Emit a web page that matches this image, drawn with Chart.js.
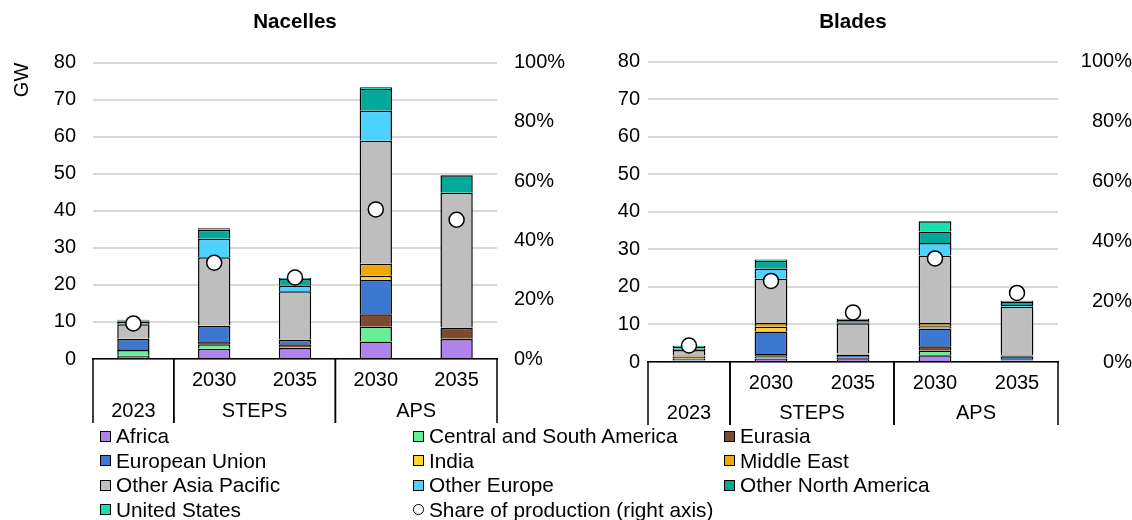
<!DOCTYPE html>
<html>
<head>
<meta charset="utf-8">
<script src="https://cdn.jsdelivr.net/npm/chart.js@4/dist/chart.umd.min.js"></script>
<style>
  body { margin: 0; background: #fff; font-family: Arial, "Liberation Sans", sans-serif; }
  #wrap { position: relative; width: 1132px; height: 520px; }
  canvas { position: absolute; top: 0; }
  #legend { position: absolute; left: 100px; top: 424px; display: grid;
    grid-template-columns: 313px 311px 300px; grid-auto-rows: 24.5px; font-size: 20.8px; color: #000; }
  #legend span { display: flex; align-items: center; white-space: nowrap; }
  #legend i { display: inline-block; width: 9px; height: 9px; border: 1px solid #000; margin-right: 5px; }
  #legend i.dot { border-radius: 50%; background: #fff; }
</style>
</head>
<body>
<div id="wrap">
  <canvas id="nacelles" width="566" height="430" style="left:0"></canvas>
  <canvas id="blades" width="566" height="430" style="left:566px"></canvas>
  <div id="legend"></div>
</div>
<script>
// categories
const yearLabels = ['', '2030', '2035', '2030', '2035'];
const groups = [
  { label: '2023', from: 0, to: 0 },
  { label: 'STEPS', from: 1, to: 2 },
  { label: 'APS', from: 3, to: 4 }
];
const regions = ['Africa', 'Central and South America', 'Eurasia', 'European Union', 'India',
  'Middle East', 'Other Asia Pacific', 'Other Europe', 'Other North America', 'United States'];
const regionColors = ['#b084ec', '#66f095', '#7d4a30', '#3c78d2', '#ffd22e',
  '#f0a800', '#bebebe', '#4dd2ff', '#00aa9b', '#14e0b4'];

// Nacelles, GW (2023, STEPS 2030, STEPS 2035, APS 2030, APS 2035)
const nacAfrica  = [0.9, 2.8, 3.0, 4.7, 5.4];
const nacCSA     = [1.5, 1.2, 0.2, 4.0, 0.1];
const nacEurasia = [0.3, 0.8, 0.8, 3.4, 2.9];
const nacEU      = [2.7, 4.1, 1.2, 9.2, 0.1];
const nacIndia   = [0.1, 0.1, 0.1, 1.2, 0];
const nacME      = [0, 0.1, 0, 3.2, 0];
const nacOAP     = [3.9, 18.4, 13.0, 33.2, 36.4];
const nacOE      = [0.7, 5.0, 1.5, 8.1, 0];
const nacONA     = [0.3, 2.4, 1.8, 5.9, 4.7];
const nacUS      = [0.2, 0.4, 0.3, 0.5, 0];
const nacShare   = [12, 32.5, 27.5, 50.5, 47];

// Blades, GW
const bladeAfrica  = [0.2, 0.9, 0.7, 1.8, 0.3];
const bladeCSA     = [0.1, 0.6, 0.1, 1.2, 0.1];
const bladeEurasia = [0.1, 0.6, 0.3, 1.2, 0.3];
const bladeEU      = [0.5, 6.0, 0.9, 4.7, 0.8];
const bladeIndia   = [0.5, 1.3, 0.2, 0.6, 0.2];
const bladeME      = [0.3, 1.0, 0.1, 0.9, 0.1];
const bladeOAP     = [1.5, 11.8, 8.0, 18.0, 12.9];
const bladeOE      = [0.3, 2.7, 0.3, 3.3, 0.5];
const bladeONA     = [0.5, 2.0, 0.6, 3.1, 0.8];
const bladeUS      = [0.3, 0.4, 0.3, 2.7, 0.3];
const bladeShare   = [5.5, 27, 16.5, 34.5, 23];

const shareLabel = 'Share of production (right axis)';
const FONT = 'Arial, "Liberation Sans", sans-serif';
Chart.defaults.font.family = FONT;
Chart.defaults.font.size = 20;
Chart.defaults.color = '#000';

// draws the group separators and group names under the year ticks
const categoryBox = {
  id: 'categoryBox',
  afterDraw(chart) {
    const x = chart.scales.x, ctx = chart.ctx;
    const n = chart.data.labels.length;
    const edge = i => i <= 0 ? x.left : i >= n ? x.right
      : (x.getPixelForValue(i - 1) + x.getPixelForValue(i)) / 2;
    ctx.save();
    ctx.strokeStyle = '#000';
    ctx.lineWidth = 1.5;
    ctx.fillStyle = '#000';
    ctx.font = '20px ' + FONT;
    ctx.textAlign = 'center';
    ctx.textBaseline = 'middle';
    groups.forEach(g => {
      const a = edge(g.from), b = edge(g.to + 1);
      [a, b].forEach(px => {
        ctx.beginPath();
        ctx.moveTo(px, x.top);
        ctx.lineTo(px, x.bottom);
        ctx.stroke();
      });
      ctx.fillText(g.label, (a + b) / 2, x.bottom - 12);
    });
    ctx.restore();
  }
};

function makeChart(id, title, series, share, o) {
  const datasets = regions.map((name, i) => ({
    type: 'bar', label: name, data: series[i], yAxisID: 'y', order: 1,
    backgroundColor: regionColors[i], borderColor: '#000', borderWidth: 1.5,
    categoryPercentage: 1, barPercentage: 0.4
  }));
  datasets.push({
    type: 'line', label: shareLabel, data: share, yAxisID: 'y2', order: 0,
    showLine: false, pointRadius: 7.5, pointBackgroundColor: '#fff',
    pointBorderColor: '#000', pointBorderWidth: 1.5
  });
  return new Chart(document.getElementById(id), {
    data: { labels: yearLabels, datasets },
    plugins: [categoryBox],
    options: {
      responsive: false,
      animation: false,
      devicePixelRatio: 1,
      layout: { padding: { left: 0, right: 0, top: 0, bottom: o.padBottom } },
      plugins: {
        legend: { display: false },
        tooltip: { enabled: false },
        title: { display: true, text: title, fullSize: false,
          font: { size: 20.6, weight: 'bold' }, padding: { top: 10, bottom: o.titleBottom } }
      },
      scales: {
        x: {
          stacked: true,
          grid: { display: false, drawTicks: false },
          border: { display: true, color: '#000', width: 1.5 },
          ticks: { padding: 9, maxRotation: 0 },
          afterFit: s => { s.height = o.xHeight; }
        },
        y: {
          stacked: true, min: 0, max: 80,
          ticks: { stepSize: 10, padding: o.yPad },
          grid: { color: '#d9d9d9', lineWidth: 2, drawTicks: false },
          border: { display: false },
          title: { display: o.gw, text: 'GW', align: 'end', padding: { top: 10, bottom: 0 } },
          afterFit: s => { s.width = o.yWidth; }
        },
        y2: {
          position: 'right', min: 0, max: 100,
          ticks: { stepSize: 20, padding: o.y2Pad, crossAlign: o.y2Align, callback: v => v + '%' },
          grid: { display: false, drawTicks: false },
          border: { display: false },
          afterFit: s => { s.width = o.y2Width; }
        }
      }
    }
  });
}

makeChart('nacelles', 'Nacelles',
  [nacAfrica, nacCSA, nacEurasia, nacEU, nacIndia, nacME, nacOAP, nacOE, nacONA, nacUS], nacShare,
  { padBottom: 7, titleBottom: 28, xHeight: 64, yWidth: 93, yPad: 17,
    y2Width: 69, y2Pad: 17, y2Align: 'near', gw: true });

makeChart('blades', 'Blades',
  [bladeAfrica, bladeCSA, bladeEurasia, bladeEU, bladeIndia, bladeME, bladeOAP, bladeOE, bladeONA, bladeUS], bladeShare,
  { padBottom: 5, titleBottom: 27, xHeight: 63, yWidth: 82, yPad: 8,
    y2Width: 74, y2Pad: 18, y2Align: 'far', gw: false });

// legend, same row-major order as the reference
const legend = document.getElementById('legend');
regions.concat([shareLabel]).forEach((name, i) => {
  const item = document.createElement('span');
  const mark = document.createElement('i');
  if (i < regions.length) mark.style.background = regionColors[i];
  else mark.className = 'dot';
  item.appendChild(mark);
  item.appendChild(document.createTextNode(name));
  legend.appendChild(item);
});
</script>
</body>
</html>
